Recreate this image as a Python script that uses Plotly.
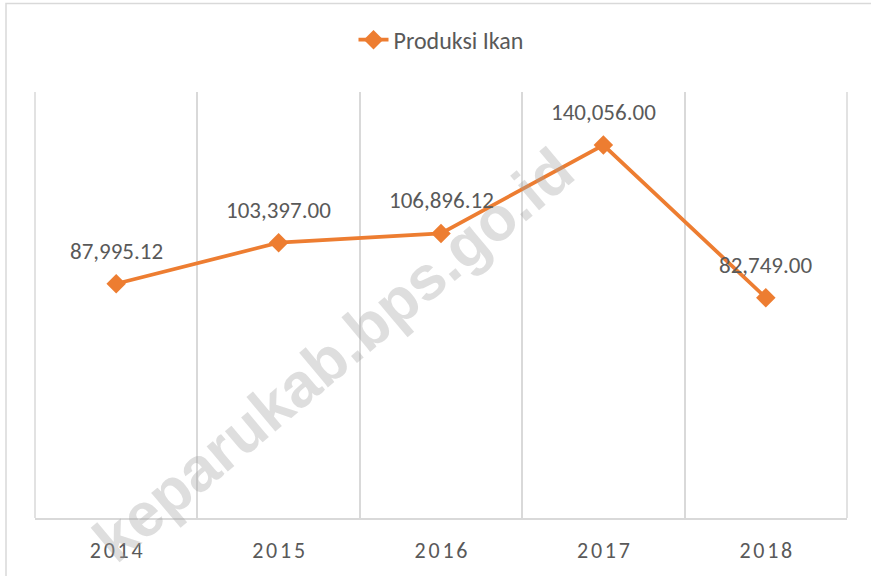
import plotly.graph_objects as go

# data
years = ["2014", "2015", "2016", "2017", "2018"]
produksi_ikan = [87995.12, 103397.00, 106896.12, 140056.00, 82749.00]
value_labels = ["87,995.12", "103,397.00", "106,896.12", "140,056.00", "82,749.00"]

ORANGE = "#ED7D31"
GRID = "#D9D9D9"
TEXT = "#595959"
FONT = "Carlito, Lato, sans-serif"

fig = go.Figure()

fig.add_trace(go.Scatter(
    x=years,
    y=produksi_ikan,
    mode="lines+markers",
    name="Produksi Ikan",
    line=dict(color=ORANGE, width=3.75),
    marker=dict(symbol="diamond", size=15, color=ORANGE),
))

# data labels above each point (category index used as x)
for i, (val, lab) in enumerate(zip(produksi_ikan, value_labels)):
    fig.add_annotation(
        x=i, y=val, text=lab, showarrow=False, yshift=33,
        font=dict(family=FONT, size=23, color=TEXT),
    )

# watermark
fig.add_annotation(
    xref="paper", yref="paper", x=0.368, y=0.383,
    text="<b>keparukab.bps.go.id</b>", showarrow=False, textangle=-40,
    font=dict(family="Liberation Sans, Arial, sans-serif", size=62,
              color="rgba(160,160,160,0.35)"),
)

# gridlines on the outer category boundaries (plotly only draws the inner ones)
for xe in (0, 1):
    fig.add_shape(
        type="line", xref="paper", yref="paper", x0=xe, x1=xe, y0=0, y1=1,
        line=dict(color=GRID, width=1.5), layer="below",
    )

# outer chart frame
fig.add_shape(
    type="rect", xref="paper", yref="paper",
    x0=-0.0357, x1=1.06, y0=-0.2, y1=1.208,
    line=dict(color=GRID, width=1.5), fillcolor="rgba(0,0,0,0)", layer="below",
)

fig.update_layout(
    width=871,
    height=576,
    margin=dict(l=35, r=24, t=92, b=56),
    paper_bgcolor="white",
    plot_bgcolor="white",
    font=dict(family=FONT, color=TEXT),
    showlegend=True,
    legend=dict(
        orientation="h", x=0.5, xanchor="center", y=1.122, yanchor="middle",
        font=dict(family=FONT, size=24, color=TEXT),
    ),
    xaxis=dict(
        type="category",
        range=[-0.5, 4.5],
        tickson="boundaries",
        tickvals=years,
        ticktext=["\u200a".join(y) for y in years],
        ticks="",
        showgrid=True,
        gridcolor=GRID,
        gridwidth=1.5,
        showline=True,
        linecolor=GRID,
        linewidth=1.5,
        tickfont=dict(family=FONT, size=22, color=TEXT),
        ticklabelstandoff=12,
        zeroline=False,
    ),
    yaxis=dict(
        range=[0, 160000],
        showgrid=False,
        showticklabels=False,
        zeroline=False,
        showline=False,
        ticks="",
    ),
)

fig.write_html(
    "out.html",
    config={"displayModeBar": False},
    post_script="document.body.style.margin = '0';",
)
